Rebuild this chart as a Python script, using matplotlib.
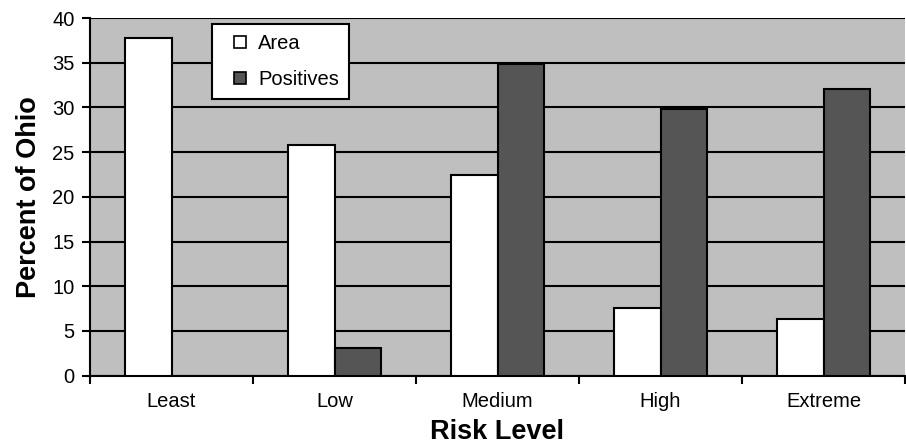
import matplotlib
matplotlib.use("Agg")
import matplotlib.pyplot as plt
from matplotlib.lines import Line2D
import numpy as np

categories = ["Least", "Low", "Medium", "High", "Extreme"]
area = [37.8, 25.8, 22.4, 7.6, 6.3]
positives = [0.0, 3.1, 34.9, 29.8, 32.1]
yticks = [0, 5, 10, 15, 20, 25, 30, 35, 40]

plt.rcParams['font.family'] = ['Liberation Sans', 'DejaVu Sans']

fig = plt.figure(figsize=(9.06, 4.44), dpi=100)
ax = fig.add_axes([90/906, 1-375.7/444, 815/906, 357.7/444])
ax.set_facecolor('#bfbfbf')

x = np.arange(len(categories))
w = 1/3.5
ax.bar(x - w/2, area, width=w, color='white', edgecolor='black', linewidth=1.5, zorder=3)
pos_x = [xi + w/2 for xi, v in zip(x, positives) if v > 0]
pos_v = [v for v in positives if v > 0]
ax.bar(pos_x, pos_v, width=w, color='#555555', edgecolor='black', linewidth=1.5, zorder=3)

ax.set_xlim(-0.5, len(categories) - 0.5)
ax.set_ylim(0, 40)
ax.set_yticks(yticks)
ax.yaxis.grid(True, color='black', linewidth=1.5, zorder=1)
ax.set_axisbelow(True)

ax.set_xticks(x)
ax.set_xticklabels(categories, fontsize=14.5)
ax.set_xticks(np.arange(-0.5, len(categories), 1.0), minor=True)
ax.tick_params(axis='x', which='major', length=0, pad=12)
ax.tick_params(axis='x', which='minor', length=6, width=1.5, direction='out', color='black')
ax.tick_params(axis='y', length=6, width=1.5, direction='out', labelsize=14.5, pad=5)

for s in ['top', 'right']:
    ax.spines[s].set_visible(False)
for s in ['left', 'bottom']:
    ax.spines[s].set_linewidth(1.5)
    ax.spines[s].set_color('black')

ax.set_ylabel('Percent of Ohio', fontsize=19.5, fontweight='bold')
ax.yaxis.set_label_coords(-0.059, 0.5)
ax.set_xlabel('Risk Level', fontsize=19.5, fontweight='bold')
ax.xaxis.set_label_coords(0.5, -0.176)
ax.xaxis.label.set_va('baseline')

handles = [Line2D([], [], marker='s', linestyle='none', markersize=8,
                  markerfacecolor='white', markeredgecolor='black', markeredgewidth=1.2),
           Line2D([], [], marker='s', linestyle='none', markersize=8,
                  markerfacecolor='#555555', markeredgecolor='black', markeredgewidth=1.2)]
leg = ax.legend(handles, ['Area', 'Positives'], loc='upper left',
                bbox_to_anchor=(122/815, (375.7-24)/357.7), borderaxespad=0,
                fontsize=14.5, frameon=True, fancybox=False, framealpha=1,
                edgecolor='black', handlelength=1.8, handletextpad=0.0,
                labelspacing=0.85, borderpad=0.5)
leg.get_frame().set_linewidth(1.5)
leg.set_zorder(5)

fig.savefig('out.png', dpi=100)
